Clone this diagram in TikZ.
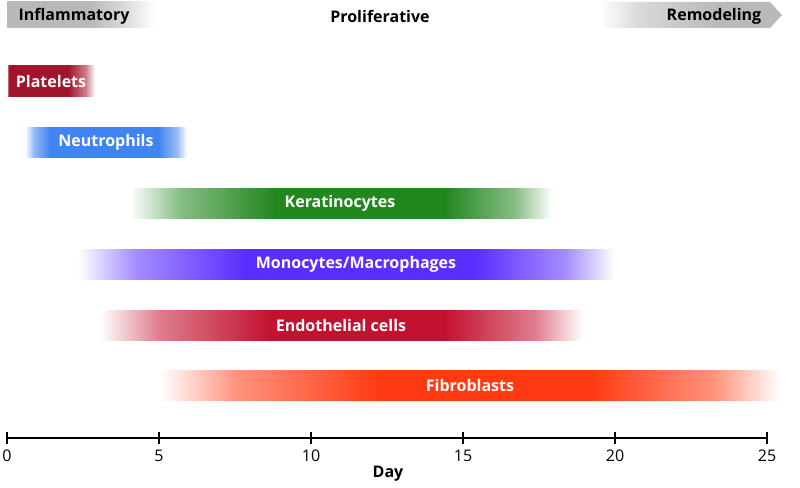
\documentclass[tikz,border=0pt]{standalone}
\usepackage{fontspec}
\setmainfont{Open Sans}
\usetikzlibrary{positioning}
\definecolor{pltred}{HTML}{A0142C}
\definecolor{neublue}{HTML}{3F84F2}
\definecolor{kergreen}{HTML}{23871F}
\definecolor{monviolet}{HTML}{5A2EFF}
\definecolor{endred}{HTML}{C31230}
\definecolor{fibred}{HTML}{FF3A12}
\definecolor{hdrgray}{HTML}{B9B9B9}
\pgfdeclarehorizontalshading{inflfade}{100bp}{color(0bp)=(hdrgray); color(25bp)=(hdrgray); color(53bp)=(hdrgray); color(64bp)=(hdrgray!55); color(75bp)=(white); color(100bp)=(white)}
\pgfdeclarehorizontalshading{remofade}{100bp}{color(0bp)=(white); color(25bp)=(white); color(36bp)=(hdrgray!55); color(57bp)=(hdrgray); color(100bp)=(hdrgray)}

\begin{document}
\begin{tikzpicture}[x=1pt, y=-1pt,
    lbl/.style={text=white, font=\bfseries\fontsize{16}{16}\selectfont},
    hdr/.style={font=\bfseries\fontsize{16}{16}\selectfont},
    num/.style={font=\fontsize{16}{16}\selectfont}]
  \useasboundingbox (0,0) rectangle (800,487);

  % phases along the top
  \shade[shading=inflfade] (7,2) rectangle (155,28);
  \shade[shading=remofade] (600,2) -- (770,2) -- (782,15) -- (770,28) -- (600,28) -- cycle;
  \node[hdr] (infl) at (74,16) {Inflammatory};
  \node[hdr] (prol) at (380,16) {Proliferative};
  \node[hdr] (remo) at (714,16) {Remodeling};

  % cell bars: top y / fade in / full / fade out / end / colour / label x / name / text
  \foreach \y/\a/\b/\c/\d/\col/\tx/\nm/\txt in {
      66/7/9/68/95/pltred/51/plt/Platelets,
      127/25/50/158/187/neublue/106/neu/Neutrophils,
      188/130/275/445/552/kergreen/340/ker/Keratinocytes,
      249/78/245/475/614/monviolet/356/mon/Monocytes\slash Macrophages,
      310/100/270/445/583/endred/341/end/Endothelial cells,
      370/160/380/590/780/fibred/470/fib/Fibroblasts} {
    \pgfmathsetmacro\w{\d-\a}
    \pgfmathsetmacro\sa{25+17.5*((\b-\a)/\w)}
    \pgfmathsetmacro\sb{25+50*((\b-\a)/\w)}
    \pgfmathsetmacro\sc{25+50*((\c-\a)/\w)}
    \pgfmathsetmacro\sd{25+50*((\c-\a)/\w)+32.5*((\d-\c)/\w)}
    \pgfdeclarehorizontalshading{bar\nm}{100bp}{color(0bp)=(white); color(25bp)=(white);
      color(\sa bp)=(\col!55); color(\sb bp)=(\col); color(\sc bp)=(\col);
      color(\sd bp)=(\col!55); color(75bp)=(white); color(100bp)=(white)}
    \shade[shading=bar\nm] (\a,\y) rectangle (\d,\y+30);
    \node[lbl] (\nm) at (\tx,\y+15) {\txt};
  }

  % time axis
  \coordinate (d0) at (7,438);
  \coordinate (d25) at (767,438);
  \draw[line width=1.2pt] (d0) -- (d25);
  \foreach \i in {0,5,...,25}
    \draw[line width=1.2pt] (7+\i*30.4,432) -- (7+\i*30.4,444)
      node[num, below=2pt] (t\i) {\i};
  \node[hdr] (day) at (388,474) {Day};
\end{tikzpicture}
\end{document}
